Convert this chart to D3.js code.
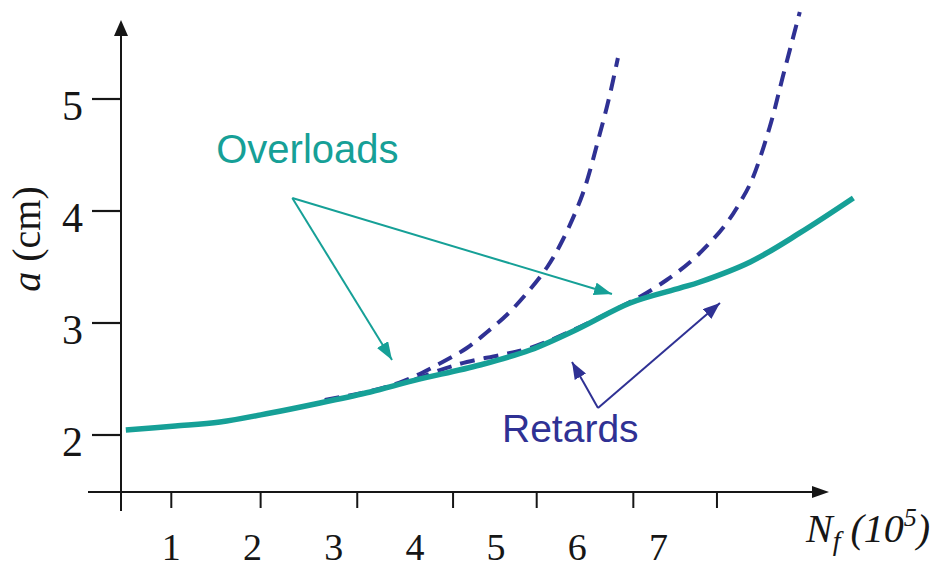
<!DOCTYPE html>
<html>
<head>
<meta charset="utf-8">
<script src="https://cdn.jsdelivr.net/npm/d3@7"></script>
<style>
  html, body { margin: 0; padding: 0; background: #fff; }
  svg { display: block; }
</style>
</head>
<body>
<script>
// ---- data: crack length a (cm) against cycles N (10^5) ----
const xTickLabels = [1, 2, 3, 4, 5, 6, 7];
const xTickMarks  = [1.0, 2.1, 3.29, 4.47, 5.5, 6.69, 7.72];
const yTickValues = [2, 3, 4, 5];

// growth curve with overloads (solid)
const overloadN = [0.44, 1.05, 1.60, 2.22, 2.83, 3.45, 3.98, 4.80, 5.42, 6.03, 6.65, 7.27, 7.51, 8.13, 8.74, 9.40];
const overloadA = [2.045, 2.08, 2.116, 2.196, 2.286, 2.384, 2.485, 2.625, 2.759, 2.955, 3.179, 3.313, 3.366, 3.545, 3.804, 4.116];

// constant-amplitude curves without the retardation (dashed)
const plainN1 = [2.89, 3.45, 3.85, 4.22, 4.64, 4.89, 5.13, 5.38, 5.63, 5.82, 6.07, 6.28, 6.40, 6.50];
const plainA1 = [2.3125, 2.393, 2.478, 2.605, 2.777, 2.92, 3.071, 3.268, 3.50, 3.741, 4.161, 4.696, 5.036, 5.366];
const plainN2 = [4.00, 4.31, 4.64, 5.05, 5.42, 6.03, 6.65, 6.81, 7.10, 7.39, 7.63, 7.84, 8.00, 8.15, 8.37, 8.53, 8.74];
const plainA2 = [2.495, 2.58, 2.652, 2.714, 2.777, 2.964, 3.188, 3.25, 3.384, 3.545, 3.714, 3.893, 4.071, 4.277, 4.75, 5.196, 5.777];

// annotations (data coordinates)
const overloadLabel = { text: "Overloads", n: 1.553, a: 4.433 };
const overloadFrom  = { n: 2.49, a: 4.116 };
const overloadTips  = [{ n: 3.718, a: 2.670 }, { n: 6.427, a: 3.259 }];
const retardLabel   = { text: "Retards", n: 5.073, a: 1.9375 };
const retardFrom    = { n: 6.255, a: 2.241 };
const retardTips    = [{ n: 5.935, a: 2.652 }, { n: 7.757, a: 3.179 }];

// ---- layout ----
const W = 949, H = 567;
const TEAL = "#16a097";
const NAVY = "#2f3194";
const INK = "#161616";
const axisX = 121;    // vertical axis position
const axisY = 492;    // horizontal axis position

const x = d3.scaleLinear().domain([0, 9]).range([90.1, 820.9]);
const y = d3.scaleLinear().domain([2, 5]).range([435, 99]);

const svg = d3.select("body").append("svg")
  .attr("width", W).attr("height", H)
  .attr("viewBox", `0 0 ${W} ${H}`);

const defs = svg.append("defs");
function arrowMarker(id, color, len, wid) {
  defs.append("marker")
    .attr("id", id)
    .attr("viewBox", `0 0 ${len} ${wid}`)
    .attr("refX", len).attr("refY", wid / 2)
    .attr("markerWidth", len).attr("markerHeight", wid)
    .attr("markerUnits", "userSpaceOnUse")
    .attr("orient", "auto")
    .append("path")
    .attr("d", `M0,0L${len},${wid / 2}L0,${wid}Z`)
    .attr("fill", color);
}
arrowMarker("tealHead", TEAL, 18, 13);
arrowMarker("navyHead", NAVY, 17, 13);

// ---- axes ----
const axes = svg.append("g").attr("stroke", INK).attr("fill", "none");
axes.append("line")
  .attr("x1", axisX).attr("x2", axisX)
  .attr("y1", 511).attr("y2", 30)
  .attr("stroke-width", 2);
axes.append("line")
  .attr("x1", 88).attr("x2", 816)
  .attr("y1", axisY).attr("y2", axisY)
  .attr("stroke-width", 2);
svg.append("path")
  .attr("d", `M${axisX - 7},36L${axisX},20L${axisX + 7},36Z`)
  .attr("fill", INK);
svg.append("path")
  .attr("d", `M812,${axisY - 6}L829,${axisY}L812,${axisY + 6}Z`)
  .attr("fill", INK);

// y ticks and labels
axes.selectAll("line.ytick").data(yTickValues).join("line")
  .attr("class", "ytick")
  .attr("x1", axisX - 29).attr("x2", axisX)
  .attr("y1", d => y(d)).attr("y2", d => y(d))
  .attr("stroke-width", 2.2);
svg.selectAll("text.ylab").data(yTickValues).join("text")
  .attr("class", "ylab")
  .attr("x", 83).attr("y", d => y(d) + 21)
  .attr("text-anchor", "end")
  .attr("font-family", "'Liberation Serif', 'Times New Roman', serif")
  .attr("font-size", 42)
  .attr("fill", INK)
  .text(d => d);

// x ticks and labels
axes.selectAll("line.xtick").data(xTickMarks).join("line")
  .attr("class", "xtick")
  .attr("x1", d => x(d)).attr("x2", d => x(d))
  .attr("y1", axisY).attr("y2", axisY + 16)
  .attr("stroke-width", 2);
svg.selectAll("text.xlab").data(xTickLabels).join("text")
  .attr("class", "xlab")
  .attr("x", d => x(d)).attr("y", 560)
  .attr("text-anchor", "middle")
  .attr("font-family", "'Liberation Serif', 'Times New Roman', serif")
  .attr("font-size", 38)
  .attr("fill", INK)
  .text(d => d);

// axis titles
const xt = svg.append("text")
  .attr("x", 806).attr("y", 542)
  .attr("font-family", "'Liberation Serif', 'Times New Roman', serif")
  .attr("font-style", "italic")
  .attr("font-size", 40)
  .attr("fill", INK);
xt.append("tspan").text("N");
xt.append("tspan").attr("font-size", 28).attr("dy", 8).text("f");
xt.append("tspan").attr("dy", -8).text(" (10");
xt.append("tspan").attr("font-size", 26).attr("dy", -16).text("5");
xt.append("tspan").attr("dy", 16).text(")");

const yt = svg.append("text")
  .attr("transform", "translate(40,239) rotate(-90)")
  .attr("text-anchor", "middle")
  .attr("font-family", "'Liberation Serif', 'Times New Roman', serif")
  .attr("font-size", 40)
  .attr("fill", INK);
yt.append("tspan").attr("font-style", "italic").text("a");
yt.append("tspan").text(" (cm)");

// ---- curves ----
const line = d3.line()
  .x(d => x(d[0])).y(d => y(d[1]))
  .curve(d3.curveCatmullRom.alpha(0.5));
const zip = (ns, as) => ns.map((n, i) => [n, as[i]]);

svg.append("path")
  .datum(zip(plainN1, plainA1))
  .attr("d", line)
  .attr("fill", "none")
  .attr("stroke", NAVY)
  .attr("stroke-width", 4)
  .attr("stroke-dasharray", "15 9");
svg.append("path")
  .datum(zip(plainN2, plainA2))
  .attr("d", line)
  .attr("fill", "none")
  .attr("stroke", NAVY)
  .attr("stroke-width", 4)
  .attr("stroke-dasharray", "15 9");
svg.append("path")
  .datum(zip(overloadN, overloadA))
  .attr("d", line)
  .attr("fill", "none")
  .attr("stroke", TEAL)
  .attr("stroke-width", 5.5)
  .attr("stroke-linecap", "butt");

// ---- annotations ----
svg.selectAll("line.ovArrow").data(overloadTips).join("line")
  .attr("class", "ovArrow")
  .attr("x1", x(overloadFrom.n)).attr("y1", y(overloadFrom.a))
  .attr("x2", d => x(d.n)).attr("y2", d => y(d.a))
  .attr("stroke", TEAL).attr("stroke-width", 2)
  .attr("marker-end", "url(#tealHead)");
svg.selectAll("line.rtArrow").data(retardTips).join("line")
  .attr("class", "rtArrow")
  .attr("x1", x(retardFrom.n)).attr("y1", y(retardFrom.a))
  .attr("x2", d => x(d.n)).attr("y2", d => y(d.a))
  .attr("stroke", NAVY).attr("stroke-width", 2)
  .attr("marker-end", "url(#navyHead)");

svg.append("text")
  .attr("x", x(overloadLabel.n)).attr("y", y(overloadLabel.a))
  .attr("font-family", "'Liberation Sans', Arial, sans-serif")
  .attr("font-size", 40)
  .attr("fill", TEAL)
  .text(overloadLabel.text);
svg.append("text")
  .attr("x", x(retardLabel.n)).attr("y", y(retardLabel.a))
  .attr("font-family", "'Liberation Sans', Arial, sans-serif")
  .attr("font-size", 39)
  .attr("fill", NAVY)
  .text(retardLabel.text);
</script>
</body>
</html>
